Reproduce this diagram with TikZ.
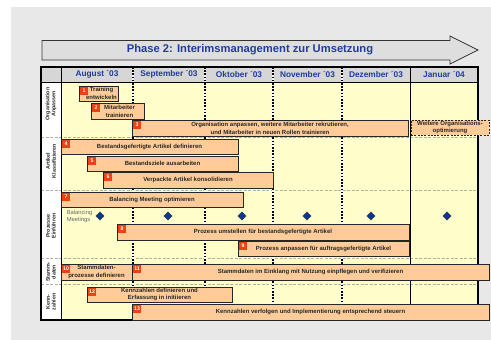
\documentclass[tikz,border=0pt]{standalone}
\usepackage{fontspec}
\setmainfont{Liberation Sans}
\usetikzlibrary{shapes.geometric,shadows}

\definecolor{pagegray}{HTML}{E8E8E8}
\definecolor{arrowfill}{HTML}{DEDEDE}
\definecolor{titleblue}{HTML}{1F3C9E}
\definecolor{headgray}{HTML}{D6D6D6}
\definecolor{bodyyellow}{HTML}{FFFFCC}
\definecolor{barfill}{HTML}{FFCC99}
\definecolor{tagred}{HTML}{EE4113}
\definecolor{navy}{HTML}{0A3796}
\definecolor{rowline}{HTML}{AEB59C}

\newcommand\taskbar[7]{% name, x1, y1, x2, y2, number, text
  \node[taskbox, minimum width={#4-#2}, minimum height={#5-#3}]
    (#1) at ({(#2+#4)/2},{(#3+#5)/2}) {#7};
  \node[tag, anchor=north west] (#1-tag) at ([shift={(1.2,1.2)}]#1.north west) {#6};
}

\begin{document}
\begin{tikzpicture}[x=1pt,y=-1pt,
  taskbox/.style={draw=black!85, fill=barfill, line width=0.75pt, inner sep=0pt,
    align=center, text=black!85, font=\bfseries\fontsize{6}{7.8}\selectfont,
    drop shadow={shadow xshift=1.2pt, shadow yshift=-1.2pt, fill=black!55, opacity=0.55}},
  laterbox/.style={draw=black!85, fill=barfill, line width=0.7pt, dashed,
    dash pattern=on 2pt off 1.3pt, inner sep=0pt, align=center, text=black!85,
    font=\bfseries\fontsize{6}{7.8}\selectfont},
  tag/.style={fill=tagred, text=white, inner sep=0pt, minimum width=8pt,
    minimum height=8pt, font=\bfseries\fontsize{5.2}{5.2}\selectfont},
  month/.style={text=titleblue, font=\bfseries\fontsize{8.3}{9}\selectfont},
  rowlabel/.style={rotate=90, align=center, text=black!85,
    font=\bfseries\fontsize{5.3}{5.8}\selectfont},
  milestone/.style={diamond, aspect=1, fill=navy, draw=black!80, line width=0.4pt,
    minimum width=8.5pt, minimum height=8.5pt, inner sep=0pt},
  monthsep/.style={line width=1.3pt, dash pattern=on 1.6pt off 1.6pt},
  rowsep/.style={draw=rowline, line width=0.5pt, dash pattern=on 3pt off 1.5pt}
]
\useasboundingbox (0,0) rectangle (491,340);
\fill[white] (0,0) rectangle (491,340);
\fill[pagegray] (11,7) rectangle (491,340);

% phase arrow with title
\draw[fill=arrowfill, draw=black!80, line width=0.8pt, line join=miter]
  (42,40.5) -- (450,40.5) -- (450,36) -- (478,50) -- (450,64) -- (450,60)
  -- (42,60) -- cycle;
\node[text=titleblue, font=\bfseries\fontsize{11.2}{12}\selectfont]
  (title) at (250,50) {Phase 2: Interimsmanagement zur Umsetzung};

% table areas
\fill[headgray] (41,67) rectangle (478,82);
\fill[white] (41,82) rectangle (61,320);
\fill[bodyyellow] (61,82) rectangle (478,320);

% row separators
\foreach \yy in {137,190,258,284}
  \draw[rowsep] (41,\yy) -- (478,\yy);

% month separators
\foreach \xx in {133,205,273,342} {
  \draw[white, line width=1.3pt] (\xx,67) -- (\xx,320);
  \draw[black, monthsep] (\xx,67) -- (\xx,320);
}
\draw[black, line width=0.9pt] (410,67) -- (410,320);
\draw[black, line width=0.9pt] (61,67) -- (61,320);
\draw[black, line width=0.9pt] (41,82) -- (478,82);
\draw[black, line width=1.3pt] (41,67) rectangle (478,320);

% month headers
\node[month] (aug) at (97,74.8)  {August ´03};
\node[month] (sep) at (169,74.8) {September ´03};
\node[month] (okt) at (239,74.8) {Oktober ´03};
\node[month] (nov) at (307.5,74.8) {November ´03};
\node[month] (dez) at (376,74.8) {Dezember ´03};
\node[month] (jan) at (444,74.8) {Januar ´04};

% row labels
\node[rowlabel] (l1) at (51,104) {Organisation\\Anpassen};
\node[rowlabel] (l2) at (51,161) {Artikel\\Klassifizieren};
\node[rowlabel] (l3) at (51,226) {Prozesse\\Einführen};
\node[rowlabel] (l4) at (51,272) {Stamm-\\daten};
\node[rowlabel] (l5) at (51,302) {Kenn-\\zahlen};

% tasks
\taskbar{t1}{79}{86}{118}{101}{1}{\hspace*{6pt}Training\\\hspace*{6pt}entwickeln}
\taskbar{t2}{91}{103}{144}{119}{2}{\hspace*{4pt}Mitarbeiter\\\hspace*{4pt}trainieren}
\taskbar{t3}{132}{120}{408}{136}{3}{Organisation anpassen, weitere Mitarbeiter rekrutieren,\\und Mitarbeiter in neuen Rollen trainieren}
\node[laterbox, minimum width=78pt, minimum height=15pt] (t3b) at (450,127.5)
  {Weitere Organisations-\\optimierung};
\taskbar{t4}{61}{139}{238}{154}{4}{Bestandsgefertigte Artikel definieren}
\taskbar{t5}{87}{156}{238}{171}{5}{Bestandsziele ausarbeiten}
\taskbar{t6}{103}{172}{273}{188}{6}{Verpackte Artikel konsolidieren}
\taskbar{t7}{61}{192}{243}{207}{7}{Balancing Meeting optimieren}

\node[text=black!60, align=left, inner sep=0pt, font=\fontsize{5.8}{7}\selectfont]
  (bm) at (79.5,216) {Balancing\\Meetings};
\foreach \xx [count=\i] in {100,168,242,307,371,447}
  \node[milestone] (m\i) at (\xx,216) {};

\taskbar{t8}{117}{224}{409}{240}{8}{Prozess umstellen für bestandsgefertigte Artikel}
\taskbar{t9}{238}{241}{409}{256}{9}{Prozess anpassen für auftragsgefertigte Artikel}
\taskbar{t10}{61}{264}{132}{280}{10}{Stammdaten-\\prozesse definieren}
\taskbar{t11}{132}{264}{489}{280}{11}{Stammdaten im Einklang mit Nutzung einpflegen und verifizieren}
\taskbar{t12}{87}{287}{232}{302}{12}{Kennzahlen definieren und\\Erfassung in initiieren}
\taskbar{t13}{132}{304}{489}{320}{13}{Kennzahlen verfolgen und Implementierung entsprechend steuern}
\end{tikzpicture}
\end{document}
